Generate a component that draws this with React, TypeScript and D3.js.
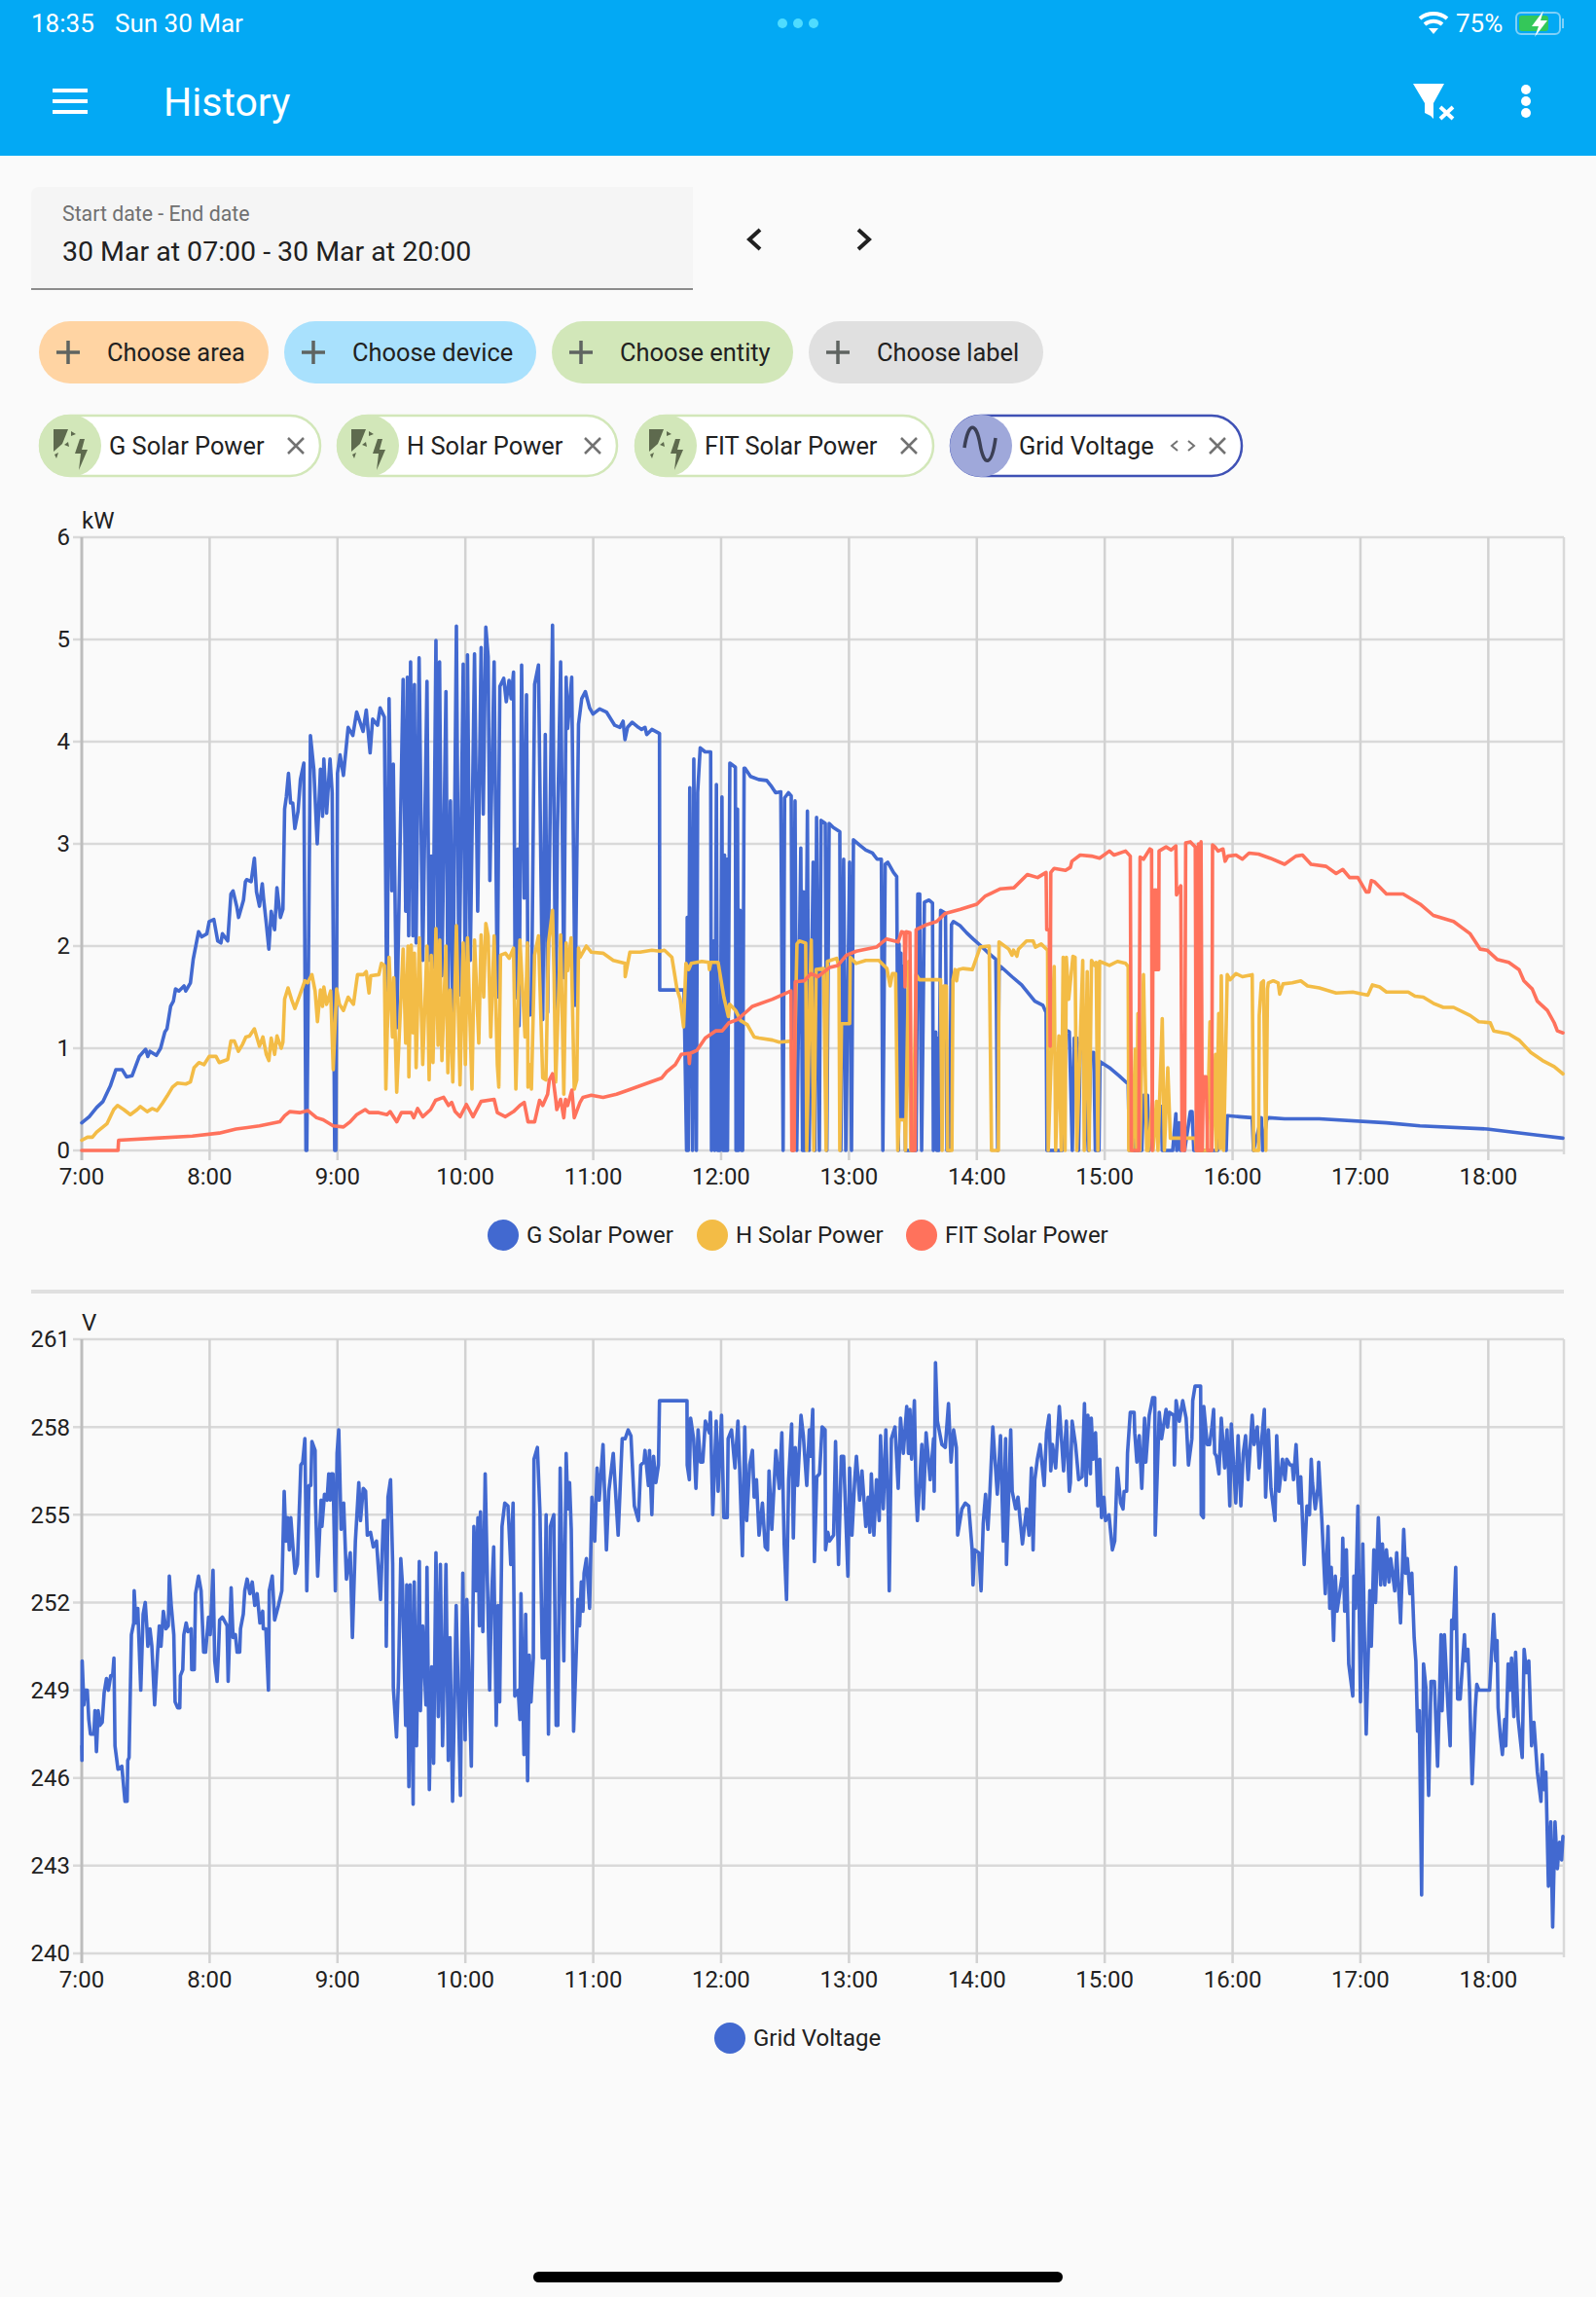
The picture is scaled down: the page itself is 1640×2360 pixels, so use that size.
import * as d3 from 'd3';

// every series is [minutes after 7:00, value]
const gSolarPower: [number, number][] = [
  [0,.27],[3.5,.33],[7,.42],[10,.48],[13.4,.63],[16,.79],[19,.79],[21,.72],[23.6,.73],[27,.92],[30,.99],[31,.92],[32,.97],[35,.93],[37,1],[39,1.16],[40,1.19],[41.7,1.41],[43,1.46],[44,1.58],[45.6,1.56],[48,1.61],[48.8,1.56],[51,1.64],[52.3,1.87],[54.8,2.14],[56.3,2.09],[58.7,2.12],[59.8,2.24],[62,2.26],[63.8,2.05],[65.3,2.03],[66,2.12],[68.5,2.05],[70,2.51],[71,2.54],[72.7,2.39],[73.6,2.28],[75.9,2.45],[76.8,2.63],[77.4,2.65],[79.5,2.63],[81,2.86],[82,2.53],[83.4,2.39],[84.7,2.61],[85.3,2.47],[86.6,2.22],[87.8,1.97],[88.9,2.34],[90.5,2.16],[91.6,2.57],[93.2,2.28],[94.4,2.36],[95.2,3.34],[96,3.46],[97,3.69],[98,3.4],[99,3.4],[100,3.15],[101.5,3.32],[102.6,3.63],[104.2,3.79],
  [105.2,0],[105.6,0],[107.3,4.06],[108.9,3.73],[110.5,3],[112,3.73],[113,3.27],[113.6,3.83],[114.9,3.3],[116.5,3.83],[117.5,3.5],[118.7,0],[119.2,0],[120,3.69],[121.2,3.87],[122.8,3.67],[125,4.14],[127.2,4.06],[129,4.29],[132,4.1],[133.5,4.31],[135.3,3.89],[136.5,4.22],[138.8,4.16],[140,4.33],[142,4.24],[143.2,1.21],[144.2,4.42],[145.5,2.54],[146.2,3.78],[147.8,1.2],[150.8,4.61],[152,2.34],[152.8,4.63],[153.4,2.1],[154.3,4.78],[155.4,2.1],[156.1,4.56],[156.9,2.03],[158.3,4.82],[160,1.86],[162,4.59],[163,1.86],[164,2.88],[164.8,1.79],[166.2,4.99],[167.1,1.79],[167.9,4.78],[169,1.71],[170.9,4.49],[171.8,1.5],[173,3.42],[174.1,1.25],[175.8,5.13],[177,1.52],[179,4.76],[180,1.35],[181,4.85],[182.3,1.86],[184.3,4.86],[185.8,2.34],[187.4,4.92],[188.4,3.29],[189.6,5.12],[190.7,4.83],[191.5,2.64],[193.5,4.78],[195,1.5],[195.7,3.46],[196.2,4.54],[198,4.62],[199.2,4.39],[200.5,4.6],[201.5,4.42],[202.6,4.68],[203.4,1.49],[204.6,2.95],[205.2,1.22],[206.4,4.75],[207.6,2.47],[208.7,4.46],[209.4,1.32],[211,1.33],[212.5,4.56],[214.3,4.75],[216.3,1.28],[217.5,4.07],[218.6,1.35],[220.9,5.14],[222.4,1.25],[223.2,3.12],[224.7,4.78],[226.2,1.69],[227.3,4.63],[228,4.13],[229.9,4.63],[231.5,1.42],[232.3,2.84],[233.1,4.17],[234.6,4.42],[236.3,4.49],[238.3,4.33],[239.9,4.27],[243,4.32],[246.2,4.29],[250.1,4.16],[252.5,4.14],[254,4.2],[254.9,4.02],[256.1,4.14],[258.3,4.19],[261.2,4.14],[262.7,4.12],[264.3,4.14],[265.1,4.07],[267.5,4.12],[271.1,4.08],[271.2,1.57],[282.6,1.57],
  [283.8,0],[284.1,2.28],[284.6,0],[285.3,3.55],[286.6,0],[287.2,3.83],[288.4,0],[289,3.5],[290.2,3.94],[292.5,3.9],[295.1,3.9],[295.5,0],[296.5,2.05],[297,0],[297.8,3.58],[298.4,0],[299.4,0],[300.4,3.46],[300.9,0],[301.6,2.89],[302.1,0],[302.7,2.85],[303,0],[304.1,3.79],[306.7,3.75],[307,0],[307.7,3.34],[308.2,0],[309,2.35],[309.6,0],[310.1,0],[310.8,3.74],[311.2,3.74],[313.8,3.66],[317.6,3.63],[321.4,3.62],[323.7,3.56],[325.6,3.5],[328,3.51],[329.1,0],[329.8,3.45],[331.6,3.5],[332.9,3.47],[333.6,0],[334.7,3.42],[335.5,0],[337.4,2.96],[338.2,0],[338.7,2.53],[339.2,0],[340.5,3.32],[341.3,0],[343.2,2.82],[344,0],[344.8,3.26],[346.1,0],[346.9,3.23],[348.9,3.2],[349.6,0],[350.7,3.2],[352.7,3.16],[355.7,3.12],[356.2,0],[357.5,2.85],[358.5,0],[360.3,2.82],[361.2,0],[362.1,3.04],[364.9,2.99],[367.9,2.94],[371,2.91],[373.2,2.85],[375.2,2.85],[375.9,0],[377,2.8],[378.2,2.82],[380.9,2.72],[382.4,2.68],[383.2,0],[383.5,2.02],[383.9,.3],[384.4,1.93],[385,.3],[385.3,1.8],[385.9,.3],[386.2,1.58],[386.5,0],[391.5,0],[392.3,2.51],[393.2,2.51],[394.1,0],[395.4,2.43],[397.6,2.45],[399.2,2.42],[399.6,0],[400.7,1.16],[401.2,0],[401.8,1.1],[402.2,0],[403,2.35],[405.3,2.32],[406,0],[407.2,0],[408.1,2.21],[409,2.24],[412.1,2.2],[415.2,2.13],[418.2,2.07],[422,2],[425,1.94],[428.9,1.87],[429.2,1.4],[429.8,0],[430.4,1.75],[431.2,1.8],[436.5,1.7],[441,1.62],[447.2,1.46],[451,1.42],[452.5,1.35],[452.9,0],[460.1,0],[460.6,1.19],[463.4,1.16],[464.8,0],[465.7,1.1],[467,1.1],[467.7,0],[468.5,1.05],[470,1.04],[472.3,0],[473.4,.96],[474.9,.96],[475.6,0],[477.3,0],[477.8,.87],[482.2,.81],[486.8,.73],[491,.65],[491.6,0],[493.3,.58],[493.7,0],[497.4,0],[498.2,.54],[500.1,.54],[500.8,0],[506.5,.43],[507,0],[511.9,0],[513.4,.36],[513.8,0],[514.9,.27],[515.5,0],[516.9,.39],[517.5,0],[520.2,.38],[521,.38],[521.8,0],[533,0],[533.2,.34],[535.5,.33],[537,0],[537.5,.34],[543.1,.33],[549.2,.32],[549.8,0],[553.5,.32],[554.1,0],[556,.3],[557,.32],[564.4,.31],[580.7,.31],[612.2,.27],[627.9,.24],[659.4,.21],[683,.15],[695,.12],
];

const hSolarPower: [number, number][] = [
  [0,.1],[2.7,.13],[5,.13],[7,.18],[11.8,.26],[15,.4],[16.8,.44],[19.7,.4],[22.8,.35],[26,.4],[27.5,.43],[30.7,.38],[33,.41],[35.4,.39],[37.8,.46],[40,.53],[42.6,.62],[45,.66],[48.8,.65],[51,.67],[52.7,.81],[55,.86],[57.4,.84],[59.8,.92],[63,.92],[64.5,.86],[68.5,.89],[70,1.07],[71.6,1.07],[73.5,.97],[75.5,1.04],[77,1.11],[78.7,1.12],[81,1.19],[83.4,1.02],[85,1.11],[86.6,.94],[87.8,.88],[88.9,1.1],[90.5,.94],[91.6,1.12],[93.6,1],[94.4,1.06],[95.2,1.48],[96.8,1.59],[98.4,1.48],[100,1.39],[102.3,1.52],[104.7,1.66],[106,1.64],[108,1.72],[109.5,1.56],[110.6,1.26],[112,1.57],[113,1.41],[113.6,1.6],[114.9,1.43],[116.8,1.56],[118,.79],[119.6,1.58],[120.9,1.43],[122.8,1.37],[125,1.5],[127.5,1.43],[129.4,1.72],[132.2,1.72],[133.5,1.75],[134.8,1.54],[135.6,1.71],[139.4,1.72],[140.6,1.83],[142,1.81],[142.7,.6],[144.2,1.89],[145.8,1.11],[146.4,1.69],[147.8,.57],[150.8,1.97],[152,1.05],[153.1,2],[153.5,.72],[154.6,2.01],[155.4,1.15],[156.1,1.93],[156.9,.81],[158.4,2.08],[160,.84],[162,2],[163,.69],[164,1.91],[164.8,.86],[166.2,2.17],[167.2,1.03],[168,2.06],[169,.88],[170.9,2],[171.8,.76],[172.9,1.57],[174.1,.67],[175.8,2.2],[177.5,.64],[179,2.03],[180,.84],[181,2.08],[183.1,.6],[184.3,2.06],[186.3,1.05],[187.4,2.11],[188.6,1.5],[189.6,2.22],[190.7,2.1],[191.9,1.11],[193.5,2.1],[195,.84],[195.7,.62],[196.5,1.91],[198.8,1.93],[200.6,1.88],[202.6,1.98],[203.7,.6],[205.6,2.06],[208,1.11],[209.1,2.03],[209.4,.62],[210.2,.84],[211,.6],[212.5,1.91],[214.3,2.1],[216.3,.71],[217.8,.69],[219,2.03],[220.9,2.35],[221.6,1.72],[222.4,.67],[224.7,2.11],[226.2,.55],[227.3,2.03],[228,1.76],[229.6,2.08],[231.1,.6],[232.3,.69],[233.1,1.98],[233.8,1.89],[236.8,2],[239.1,1.94],[244.6,1.93],[249.4,1.86],[254.9,1.83],[255,1.7],[257.2,1.94],[262,1.94],[267.5,1.96],[271.4,1.95],[273.4,1.96],[276.9,1.89],[279.3,1.58],[280.8,1.48],[282.4,1.21],[283.5,1.83],[284.8,1.77],[286,1.83],[291,1.85],[294.2,1.84],[294.5,1.77],[295.2,1.84],[298.6,1.84],[301.3,1.5],[303.4,1.31],[304,1.43],[306.8,1.37],[309.2,1.27],[312.3,1.23],[315.5,1.11],[317.8,1.1],[324.1,1.08],[327.3,1.06],[332.9,1.07],[333.6,0],[335.6,2.02],[336.7,2.05],[339.7,2.03],[340.2,0],[341.7,1.57],[342.3,2.06],[343.5,0],[344.6,1.77],[348.1,1.78],[349.3,0],[349.9,1.85],[354.2,1.88],[355.3,1.8],[355.7,0],[356.5,1.24],[360.3,1.24],[360.6,1.89],[363.3,1.83],[367.9,1.86],[374,1.86],[377.8,1.78],[379.3,1.61],[380.4,1.73],[381.9,1.73],[382.9,0],[383.5,.3],[386.2,.3],[386.5,0],[388,1.85],[389,0],[390,0],[391.5,1.72],[393.1,1.67],[403,1.67],[403.7,0],[404.5,1.61],[405.7,1.61],[406.3,0],[408.3,0],[408.8,1.67],[409.8,1.77],[410.5,1.66],[411.3,1.77],[413.6,1.78],[417.9,1.77],[421.6,1.99],[425.8,2],[426.9,0],[430.1,0],[430.4,2.04],[435,1.97],[436.5,1.91],[437.2,1.96],[438.8,1.9],[439.5,1.97],[443.3,2.05],[446.4,2.05],[447.5,1.99],[450.2,2.02],[453.2,1.96],[453.5,0],[456.3,1.8],[457,0],[458.5,1.12],[459.6,0],[460.5,1.89],[461.4,0],[462,1.89],[463.1,1.48],[465.1,1.9],[466.1,1.89],[466.9,0],[469.7,1.86],[470.4,0],[471.8,1.75],[472.7,0],[473.8,1.86],[475.3,1.81],[476,1.84],[476.8,0],[477.6,1.85],[482.2,1.81],[486,1.85],[489.8,1.83],[491,1.8],[491.3,0],[493.1,0],[494.3,.99],[495,0],[495.6,1.34],[496.5,0],[498.2,1.72],[499.7,0],[500.4,0],[502.3,.46],[502.7,0],[504.3,.48],[505,0],[507,1.29],[508,0],[509.6,.81],[510.8,.12],[522.5,.12],[523,0],[528,0],[529.4,1.26],[530.2,0],[532,.94],[532.4,0],[533.5,1.34],[534.2,.02],[534.7,1.71],[535.8,0],[537.5,1.72],[538.8,1.67],[541.6,1.73],[544.6,1.7],[549.2,1.72],[549.9,0],[552.2,0],[552.5,1.32],[553.5,1.64],[554.5,1.66],[555.6,0],[556.4,1.58],[556.8,1.64],[559.1,1.66],[561.4,1.64],[562.1,1.53],[563.7,1.63],[568,1.64],[572,1.66],[575.2,1.61],[580.7,1.59],[588.6,1.54],[596.4,1.55],[603.5,1.52],[605.6,1.62],[609,1.6],[612.2,1.55],[622.4,1.55],[625.6,1.51],[629.5,1.5],[634.2,1.44],[638.9,1.4],[643.7,1.4],[651.5,1.32],[655.5,1.26],[660.9,1.25],[662.5,1.17],[669.6,1.14],[674.4,1.08],[679.9,.96],[685.4,.88],[690.9,.82],[695,.75],
];

const fitSolarPower: [number, number][] = [
  [0,0],[17,0],[17.3,.1],[34.6,.12],[51.9,.14],[64.5,.17],[72.4,.21],[83.4,.24],[92.9,.28],[95.2,.34],[97.6,.38],[102.3,.37],[106.2,.39],[110.2,.32],[113.3,.3],[118,.24],[122.8,.23],[125.9,.28],[129,.35],[133,.4],[134.8,.37],[139.4,.37],[143.2,.35],[144.7,.38],[147.8,.28],[150,.37],[154.6,.37],[155.8,.32],[157.6,.41],[160,.33],[163.7,.4],[166,.49],[169.8,.52],[172.1,.44],[173.6,.47],[175.2,.38],[177.5,.33],[180.5,.45],[183.6,.33],[187.4,.48],[193.5,.5],[195,.37],[198.8,.33],[202.6,.38],[205.6,.44],[207.6,.47],[209.4,.28],[212.5,.28],[214.8,.49],[216.3,.44],[218.6,.55],[219.4,.69],[220.9,.75],[222.4,.5],[222.9,.4],[224.7,.5],[226.2,.32],[227,.5],[228,.44],[230,.59],[231.1,.32],[233.8,.47],[235.2,.52],[239.1,.54],[244.6,.52],[250.9,.55],[256.4,.59],[264.3,.65],[272.2,.71],[274.5,.77],[278.5,.84],[281.3,.94],[284.8,.95],[285.1,.85],[285.5,.95],[288.7,.98],[292.6,1.1],[297.4,1.17],[300.5,1.17],[303.7,1.25],[307.6,1.28],[311.5,1.35],[314.7,1.41],[324.1,1.48],[332.8,1.56],[333.2,0],[334.3,0],[334.8,1.65],[339,1.66],[342.2,1.73],[345.4,1.7],[350.9,1.79],[354.8,1.81],[358.8,1.91],[363.5,1.95],[372.9,1.99],[377.6,2.07],[383.1,2.04],[384.7,2.14],[386,2.13],[386.3,1.6],[386.8,2.14],[388.6,2.13],[389.4,0],[391,0],[391.5,2.16],[396.5,2.21],[401.2,2.24],[405.2,2.32],[412.3,2.36],[420,2.41],[424,2.49],[431.1,2.56],[437.4,2.57],[443.7,2.7],[448.5,2.67],[452.5,2.72],[452.8,2.16],[454,2.16],[454.4,1.02],[454.7,2.72],[456.3,2.76],[461.6,2.74],[463.9,2.77],[464.6,2.83],[468.5,2.89],[473.8,2.88],[477.6,2.86],[482.2,2.93],[484.4,2.89],[489.8,2.93],[492,2.88],[492.5,0],[496,0],[496.6,2.87],[498.2,2.85],[501.2,2.95],[502,2.94],[502.3,0],[502.7,2.55],[503.2,1.77],[503.7,2.55],[504.2,1.77],[504.7,2.55],[505.3,1.77],[505.5,2.93],[508.8,2.97],[511.1,2.94],[513.4,2.98],[513.7,2.5],[515.7,2.59],[516.3,0],[517.5,0],[518,3.01],[520.2,3.02],[522.5,2.97],[523,0],[523.5,0],[524,3],[524.6,0],[525.2,3.02],[525.8,0],[526.3,.72],[527,.72],[527.6,.72],[528.3,0],[530.2,0],[530.6,2.99],[531.7,2.97],[533.2,2.93],[535.5,2.95],[536.5,2.83],[537.8,2.88],[541.6,2.89],[544.6,2.85],[547.7,2.91],[552.2,2.9],[557.6,2.86],[564.4,2.8],[569.7,2.88],[572.8,2.89],[576.8,2.8],[583.9,2.78],[588.6,2.71],[591.7,2.75],[594.9,2.67],[598.8,2.67],[602.7,2.53],[604,2.53],[605.1,2.64],[606.5,2.63],[612.2,2.51],[620,2.51],[628,2.41],[634.2,2.3],[643.7,2.24],[651.5,2.12],[656.2,1.97],[659.4,1.96],[664.1,1.87],[669.6,1.84],[674.4,1.77],[676.7,1.66],[680.6,1.58],[683,1.46],[687.7,1.37],[690.9,1.25],[692.4,1.17],[695,1.15],
];

const gridVoltage: [number, number][] = [
  [0,247.1],[.1,246.6],[.2,250],[1,248.5],[1.5,249],[2.6,249],[3.3,248],[4.1,247.5],[5.7,247.5],[6.2,248.3],[6.9,246.9],[7.7,248.3],[8.5,247.8],[9.6,247.9],[10.5,248.9],[11.6,249.4],[12.5,249],[13.6,249.5],[14.5,249.5],[15.1,250.1],[15.6,247.1],[17,246.3],[18.8,246.4],[20.3,245.2],[21.3,245.2],[21.6,246.6],[22.2,246.7],[23.3,250.9],[24.4,251.3],[24.6,252.4],[25.4,251.3],[26.3,251.8],[27.7,249],[28.8,251.6],[29.8,252],[30.6,251.1],[31,250.5],[32,251.1],[32.9,250.5],[34.2,248.5],[35.6,250.3],[36.4,251.2],[37.2,250.5],[38.3,251.7],[39.5,251.1],[40.6,251.2],[41.1,252.9],[42,251.9],[43.2,250.9],[43.8,248.6],[45,248.4],[46,248.4],[46.3,249.5],[47.4,249.7],[47.9,250.9],[49,251.3],[49.8,251],[51.3,251.1],[51.6,249.7],[52.8,249.7],[53.4,252.3],[54.8,252.9],[56,252.4],[57.2,250.3],[58.1,250.3],[59.5,251.5],[60.3,250.9],[61.6,253.1],[62.4,250],[63.5,249.3],[64.1,250.2],[64.7,251.4],[66,251.5],[68.2,251.2],[68.7,249.3],[70.1,252.5],[71,250.8],[72.1,250.9],[72.9,250.3],[74.1,250.3],[74.5,251.1],[75.8,251.6],[76.5,252.4],[77.6,252.8],[78.9,252.3],[80,252.7],[81.2,251.9],[82.3,252.3],[83.6,251.3],[84.9,251.7],[85.2,251.1],[86.4,251.1],[87.6,249],[88,252.4],[89.4,252.9],[90.5,251.4],[92.3,251.9],[93.9,252.4],[95,255.8],[95.8,254.1],[96.6,254.9],[97.4,253.8],[98.1,254.9],[99.1,253.9],[100.1,253],[101.2,253.3],[102.8,256.7],[103.7,256.8],[104.7,257.6],[105.6,252.4],[106.6,256],[107.5,256],[108,257.5],[109.5,257.2],[109.7,255.4],[110.7,252.9],[112.3,255.5],[112.7,254.6],[113.9,255.7],[115.1,255.5],[115.9,256.4],[116.6,255.5],[117.1,256.4],[117.9,256.4],[119,252.4],[119.8,257.1],[120.6,257.9],[121.7,254.5],[122.9,255.4],[124.2,252.8],[126,253.7],[127,250.8],[128.4,254.1],[130,256.1],[130.8,254.8],[132.1,255.9],[133.2,255.8],[134,254.3],[135.5,254.4],[136.8,253.9],[138.3,254.1],[140.2,252.1],[141.5,254.8],[142.6,254.8],[142.9,250.5],[143.7,255.6],[144.9,256.2],[145.9,253.3],[146.2,249.1],[147.7,247.4],[148.6,249.3],[149.7,253.5],[150.5,252.6],[152,247.8],[152.5,252.6],[153.5,245.7],[154.1,252.6],[155.5,245.1],[156,252.7],[157.1,247.1],[158.4,253.4],[158.9,248.3],[160,251.2],[161.5,248.5],[162,253.2],[163.1,245.6],[164.2,249.8],[165.1,246.5],[166.2,253.7],[167.3,248.1],[168.3,253.3],[169.3,247.1],[170.1,249.7],[170.9,253.3],[172,246.6],[172.8,250.8],[174,245.2],[175.7,251.9],[177.7,245.4],[178.8,253],[179.9,247.3],[180.7,252.1],[182.8,246.4],[184,254.6],[185.1,252.4],[185.9,254.9],[186.6,251.2],[187.1,255.1],[188.2,251],[189.3,256.4],[191.4,249],[192.2,252],[193.3,253.9],[194.5,247.8],[195.3,251.9],[196.1,248.6],[197.2,254.6],[198.5,255.4],[200,255.3],[201.3,253.3],[202.4,255.4],[203.2,248.8],[204.8,249],[205.6,248],[206.1,252.3],[207.5,246.8],[208.3,251.6],[209.2,245.9],[210,250.2],[210.8,248.6],[211.9,250.1],[212.2,256.9],[213.8,257.3],[215,255.1],[216.1,250.1],
  [217.1,250.1],[217.9,255],[219,247.5],[219.9,254.6],[221.5,255],[222.6,247.8],[223.4,247.8],[224.5,256.6],[226.2,250],[227.3,257.1],[228.1,255.2],[228.9,256.1],[229.7,254.5],[230.8,247.6],[232.1,250.4],[232.8,252.1],[233.6,251.2],[234.4,252.7],[235.2,251.7],[235.7,253],[236.8,253.5],[238.3,251.8],[239.4,255.6],[240.7,254.1],[241.8,256.6],[242.8,255.5],[244.6,257.4],[246.2,253.8],[247.3,255.8],[249.4,257.1],[251.7,254.3],[253.6,257.6],[255,257.6],[256.4,257.9],[257.7,257.7],[259.3,255.3],[261.2,254.8],[262.3,256.7],[263.8,256.8],[264.3,257.2],[265.9,256],[266.4,257.2],[267.5,255],[268.3,257],[269.4,256.1],[270.6,256.7],[271.1,258.9],[284,258.9],[284.1,256.7],[285.1,256.2],[285.7,258.3],[287.1,257.6],[288.2,255.9],[289.2,257.9],[290.3,256.8],[291.4,256.8],[292.6,258.2],[294.5,257.8],[295,258.5],[296.1,255],[297.7,258.2],[298.6,255.8],[300.2,258.4],[301.3,254.9],[302.9,254.9],[303.3,257.6],[304.9,257.9],[306.5,256.6],[307.9,258.2],[308.7,256.6],[310,253.6],[311.1,258],[312,254.8],[313.4,256.7],[314.7,257.2],[315.5,255.6],[316.6,256.2],[317.8,254.3],[319.4,255.4],[320.7,253.9],[321.8,253.8],[322.5,256.5],[323.8,254.5],[325.7,257.2],[327.3,255.9],[328.5,257.8],[329.6,254],[330.7,252.1],[331.7,256.2],[333.1,258.1],[333.9,254.2],[334.8,257.3],[335.9,256],[337.5,258.4],[338.6,257.7],[340.2,256],[341.4,257.9],[341.9,257],[343,258.6],[343.8,253.4],[344.9,256.3],[346.2,256.4],[347.4,258],[348.8,257.9],[349,253.8],[350.1,254.4],[350.9,254.1],[352.8,254.3],[353.7,257.5],[355.1,253.3],[356.4,257],[357.5,257],[359.5,252.9],[360.3,256.6],[361.4,254.3],[362.7,256.2],[363.5,257],[365,255.5],[366.1,256.5],[367.9,254.6],[369,255.6],[369.8,254.4],[370.5,256.4],[371.7,254.3],[372.9,256.2],[374.2,254.8],[374.8,257.7],[376.1,255.2],[377.3,257.9],[378.4,255.1],[378.9,252.4],[379.9,257.6],[381.6,258],[383.1,255.9],[384.2,258.3],[385.5,257.1],[387.1,258.7],[387.9,257.1],[388.6,258.6],[389.4,256.9],[390.7,258.9],[391.5,255.7],[392.1,254.8],[394.2,257.4],[394.9,255.2],[396.2,257.8],[398.1,256.2],[399.7,257.6],[400,255.8],[400.6,260.2],[401.5,258.2],[403.6,257.4],[405.2,257.3],[406.7,258.8],[407.9,256.8],[409.1,257.9],[410.4,257.3],[411,254.3],[413,255.2],[414.6,255.4],[416.2,255.3],[417.8,253.8],[418.2,252.6],[419,253.8],[420.9,253.7],[422,252.4],[423,254.7],[424.1,255.7],[425.2,254.5],[425.9,255.4],[427.5,258],[429.6,255.7],[431.1,257.7],[432.4,254.1],[433.5,257.6],[433.9,253.3],[435.9,257.9],[436.6,255.8],[438.2,255.2],[439.3,255.6],[441.4,254],[443.3,255.2],[444.5,254.3],[445.6,256.6],[446.4,253.8],[447.2,256.2],[448.4,256.9],[449.7,257.4],[451.6,256],[452.7,257.8],[453.9,258.4],[454.7,256.5],[455.5,257.4],[457,256.6],[458.7,258.7],[460.7,256.5],[462,258.2],[463.4,255.8],
  [463.9,256.1],[464.7,258.2],[466.3,257.4],[467.8,256.2],[469.4,256.3],[470.5,258.8],[471.3,256],[472.1,258.4],[473.3,256.4],[473.7,258.3],[474.6,256.9],[475.7,257.8],[476.8,255.3],[477.7,256.9],[478.5,254.9],[479.6,255.6],[480.4,254.8],[482,255],[483.6,253.8],[484.7,254.1],[485.9,256.6],[487.5,255.4],[488.6,255.2],[489.1,255.8],[490.3,255.8],[490.7,257.1],[492,258.5],[493.8,258.5],[494.1,257.8],[495.1,256.8],[496.2,257.7],[497.4,255.9],[498.7,258.3],[499.3,256.8],[500.9,258.4],[502.5,259],[503.5,259],[503.7,254.3],[505.6,258.5],[506.7,257.6],[508.8,258.6],[509.5,258],[510.3,258.5],[512.4,258.4],[512.7,256.7],[513.5,258.9],[515,258.2],[516.6,258.9],[518.2,258.3],[519.3,256.7],[520.9,257.6],[521.3,258.9],[522.4,259.4],[525,259.4],[525.3,255],[526.3,254.9],[526.5,258.7],[528.1,257.4],[529.2,257.4],[530.3,258],[531.1,258.6],[531.6,257.1],[532.4,257],[533.6,256.4],[534.7,258.3],[536.3,256.6],[537.4,257.9],[538.7,255.3],[539.4,258.1],[541.5,255.4],[542.6,257.7],[543.9,255.3],[545,257.1],[546.1,257.7],[547.3,256.2],[549.2,258.4],[550.1,257.4],[551.6,258],[552.5,256.6],[554.9,258.6],[555.5,255.6],[556.8,257.9],[558,255.9],[559.9,254.8],[560.7,257.7],[561.8,255.8],[563.4,256.9],[564.6,256.2],[565.4,256.9],[567,256.7],[568,256.7],[568.6,256.2],[569.8,257.4],[571.2,255.4],[572,256.3],[573.6,253.3],[574.9,255.3],[576.1,255],[576.9,256.9],[577.5,256.1],[578.8,255.2],[580,255.9],[580.4,256.8],[581.9,254.8],[583.5,252.3],[584.8,254.6],[585.6,251.8],[586.3,253.2],[587.4,250.7],[588.2,252.9],[589,251.7],[591.4,252.9],[591.7,254.2],[592.6,251.7],[593.4,253.8],[594.5,249.9],[596.4,248.8],[596.9,252.9],[597.7,251.8],[598.8,255.3],[600,248.6],[601.1,254],[602.7,247.5],[604.4,252.4],[605.1,250.5],[606.3,253.8],[607.1,252],[608.4,254.9],[609.5,252.6],[610.3,254],[611.4,252.6],[612.2,253.8],[613.4,252.7],[614.2,253.5],[616.1,252.4],[617,253.7],[618.8,251.3],[620.3,254.5],[621.2,253],[622,253.5],[623.2,252.3],[624.1,253],[625.2,250.8],[626,250],[626.8,247.6],[627.6,248.3],[628.7,242],[629.6,249.9],[630.7,249.1],[632,245.4],[633.1,249.3],[634.7,249.3],[636.2,246.4],[637.8,250.9],[638.3,248.3],[639.4,250.9],[641,248.5],[642.1,247.1],[642.8,251.4],[643.6,251.1],[644.7,253.2],[645.6,248.7],[646.8,248.7],[648.8,250.9],[649.3,250],[650.4,250.4],[651.2,249],[652.4,245.8],[653.9,248.4],[654.6,249.2],[655.6,249],[660.6,249],[662.5,251.6],[663.5,250],[664.1,250.7],[664.6,248.4],[665.7,247.4],[666.6,246.8],[667.7,248],[668.2,247.1],[669.3,249.9],[670.1,249],[670.9,250.1],[672,248.1],[672.8,250.3],[674,248],[675.9,246.7],[676.8,250.4],[677.9,249.6],[679,250],[680.3,247.1],[681.4,247.9],[683,246.2],[684.7,245.2],[685.3,246.8],[686.1,245.6],[687,246.2],[688.2,242.3],[689.3,244.5],[690.2,240.9],[691.3,244.5],[692.4,242.9],[693.4,243.8],[694.4,243.2],[695,244],
];

const hourTicks = [0, 60, 120, 180, 240, 300, 360, 420, 480, 540, 600, 660];
const hourLabels = ['7:00', '8:00', '9:00', '10:00', '11:00', '12:00', '13:00', '14:00', '15:00', '16:00', '17:00', '18:00'];
const powerTicks = [0, 1, 2, 3, 4, 5, 6];
const voltageTicks = [240, 243, 246, 249, 252, 255, 258, 261];

const BLUE = '#4269d0';
const YELLOW = '#f3bc46';
const RED = '#ff725c';
const FONT = 'Roboto, sans-serif';

const xScale = d3.scaleLinear().domain([0, 695]).range([84, 1606]);

function Plot({ y, ticks, unit, series }: {
  y: d3.ScaleLinear<number, number>;
  ticks: number[];
  unit: string;
  series: { data: [number, number][]; color: string }[];
}) {
  const line = d3.line<[number, number]>().x(d => xScale(d[0])).y(d => y(d[1]));
  const [bottom, top] = y.range();
  return (
    <g fontFamily={FONT} fill="#212121">
      {ticks.map(t => (
        <g key={t}>
          <line x1={75} x2={1607} y1={y(t)} y2={y(t)} stroke="#d9d9d9" strokeWidth={2.5} />
          <text x={72} y={y(t)} dy="0.35em" fontSize={24} textAnchor="end">{t}</text>
        </g>
      ))}
      {hourTicks.map((t, i) => (
        <g key={t}>
          <line x1={xScale(t)} x2={xScale(t)} y1={top} y2={bottom + 10} stroke={t === 0 ? '#bdbdbd' : '#d2d2d2'} strokeWidth={t === 0 ? 3 : 2.5} />
          <text x={xScale(t)} y={bottom + 27} dy="0.35em" fontSize={24} textAnchor="middle">{hourLabels[i]}</text>
        </g>
      ))}
      <line x1={1607} x2={1607} y1={top} y2={bottom + 4} stroke="#d9d9d9" strokeWidth={2.5} />
      <text x={84} y={top - 17} dy="0.35em" fontSize={24}>{unit}</text>
      {series.map(s => (
        <path key={s.color} d={line(s.data) as string} fill="none" stroke={s.color} strokeWidth={3.6} strokeLinejoin="round" strokeLinecap="round" />
      ))}
    </g>
  );
}

function LegendItem({ x, y, color, label }: { x: number; y: number; color: string; label: string }) {
  return (
    <g>
      <circle cx={x} cy={y} r={16} fill={color} />
      <text x={x + 24} y={y} dy="0.35em" fontSize={24} fontFamily={FONT} fill="#212121">{label}</text>
    </g>
  );
}

function AddChip({ x, w, color, label }: { x: number; w: number; color: string; label: string }) {
  const y = 330;
  return (
    <g>
      <rect x={x} y={y} width={w} height={64} rx={32} fill={color} />
      <path d={`M${x + 18} ${y + 32}h24M${x + 30} ${y + 20}v24`} stroke="#5f6461" strokeWidth={3.5} fill="none" />
      <text x={x + 70} y={y + 32} dy="0.35em" fontSize={25.4} fontFamily={FONT} fill="#212121">{label}</text>
    </g>
  );
}

function Cross({ x, y }: { x: number; y: number }) {
  return <path d={`M${x - 8} ${y - 8}L${x + 8} ${y + 8}M${x + 8} ${y - 8}L${x - 8} ${y + 8}`} stroke="#727272" strokeWidth={2.5} fill="none" />;
}

function EntityChip({ x, w, label, blue }: { x: number; w: number; label: string; blue?: boolean }) {
  const y = 458;
  const border = blue ? '#3f51b5' : '#d2e7b9';
  const disc = blue ? '#9fa8da' : '#d2e7b9';
  return (
    <g>
      <rect x={x + 1} y={y - 31} width={w - 2} height={62} rx={31} fill="#fff" stroke={border} strokeWidth={2.5} />
      <circle cx={x + 32} cy={y} r={32} fill={disc} />
      {blue
        ? <path d={`M${x + 15} ${y + 2}C${x + 19} ${y - 25} ${x + 27} ${y - 25} ${x + 31} ${y - 2}C${x + 35} ${y + 22} ${x + 43} ${y + 22} ${x + 47} ${y - 8}`} fill="none" stroke="#3b3f55" strokeWidth={3.5} />
        : <g fill="#5e6a4e" transform={`translate(${x + 15},${y - 17})`}>
            <path d="M0 0h15l-6 15l-9 8z" />
            <path d="M18 2l5 3l-5 2zM15 13l-4 3l5 2zM1 26l4-2l-2 6z" />
            <path d="M27 10h5l-3 11h6l-9 21l2-17h-6z" />
          </g>}
      <text x={x + (blue ? 71 : 72)} y={y} dy="0.35em" fontSize={25.4} fontFamily={FONT} fill="#212121">{label}</text>
      {blue && <path d={`M${x + 234} ${y - 5}l-6 5l6 5M${x + 245} ${y - 5}l6 5l-6 5`} stroke="#727272" strokeWidth={2} fill="none" />}
      <Cross x={x + w - 26} y={y} />
    </g>
  );
}

export default function App() {
  const yPower = d3.scaleLinear().domain([0, 6]).range([1182, 552]);
  const yVoltage = d3.scaleLinear().domain([240, 261]).range([2007, 1376]);
  return (
    <svg width={1640} height={2360} style={{ position: 'absolute', left: 0, top: 0, display: 'block' }}>
      <rect width={1640} height={2360} fill="#fafafa" />

      {/* top bar */}
      <rect width={1640} height={160} fill="#03a9f4" />
      <g fontFamily={FONT} fill="#fff">
        <text x={32} y={33} fontSize={26}>18:35</text>
        <text x={118} y={33} fontSize={26}>Sun 30 Mar</text>
        <text x={1496} y={33} fontSize={26}>75%</text>
        <text x={168} y={119} fontSize={41}>History</text>
      </g>
      <g fill="#4fdcff">
        <circle cx={804} cy={24} r={5} /><circle cx={820} cy={24} r={5} /><circle cx={836} cy={24} r={5} />
      </g>
      <path d="M1459 19a22 22 0 0 1 28 0M1464 25a14 14 0 0 1 18 0" stroke="#fff" strokeWidth={4} fill="none" />
      <path d="M1468 29h10l-5 6z" fill="#fff" />
      <rect x={1558} y={13} width={45} height={22} rx={5} fill="none" stroke="#7fd0f8" strokeWidth={2} />
      <rect x={1561} y={16} width={30} height={16} rx={3} fill="#34c759" />
      <rect x={1605} y={19} width={2} height={10} fill="#7fd0f8" />
      <path d="M1586 11l-12 16h7l-4 11l13-17h-7z" fill="#fff" />
      <path d="M54 93h36M54 104h36M54 115h36" stroke="#fff" strokeWidth={4} />
      <path d="M1452 86h32l-11 20v16l-3-3l-6-3v-10z" fill="#fff" />
      <path d="M1480 110l13 12M1493 110l-13 12" stroke="#fff" strokeWidth={4} />
      <circle cx={1568} cy={92} r={5} fill="#fff" /><circle cx={1568} cy={104} r={5} fill="#fff" /><circle cx={1568} cy={116} r={5} fill="#fff" />

      {/* date range */}
      <path d="M32 298V200a8 8 0 0 1 8-8H712a8 8 0 0 1 0 0V298z" fill="#f5f5f5" />
      <rect x={32} y={296} width={680} height={2} fill="#8c8c8c" />
      <text x={64} y={227} fontSize={21.3} fontFamily={FONT} fill="#707070">Start date - End date</text>
      <text x={64} y={268} fontSize={28.5} fontFamily={FONT} fill="#212121">30 Mar at 07:00 - 30 Mar at 20:00</text>
      <path d="M781 236l-11 10l11 10M882 236l11 10l-11 10" fill="none" stroke="#212121" strokeWidth={4} />

      <AddChip x={40} w={236} color="#ffd4a3" label="Choose area" />
      <AddChip x={292} w={259} color="#a9e1fd" label="Choose device" />
      <AddChip x={567} w={248} color="#d2e7b9" label="Choose entity" />
      <AddChip x={831} w={241} color="#e0e0e0" label="Choose label" />

      <EntityChip x={40} w={290} label="G Solar Power" />
      <EntityChip x={346} w={289} label="H Solar Power" />
      <EntityChip x={652} w={308} label="FIT Solar Power" />
      <EntityChip x={976} w={301} label="Grid Voltage" blue />

      <Plot y={yPower} ticks={powerTicks} unit="kW" series={[
        { data: gSolarPower, color: BLUE },
        { data: hSolarPower, color: YELLOW },
        { data: fitSolarPower, color: RED },
      ]} />
      <LegendItem x={517} y={1269} color={BLUE} label="G Solar Power" />
      <LegendItem x={732} y={1269} color={YELLOW} label="H Solar Power" />
      <LegendItem x={947} y={1269} color={RED} label="FIT Solar Power" />

      <rect x={32} y={1325} width={1575} height={4} fill="#e0e0e0" />

      <Plot y={yVoltage} ticks={voltageTicks} unit="V" series={[{ data: gridVoltage, color: BLUE }]} />
      <LegendItem x={750} y={2094} color={BLUE} label="Grid Voltage" />

      <rect x={548} y={2334} width={544} height={11} rx={5.5} fill="#000" />
    </svg>
  );
}
